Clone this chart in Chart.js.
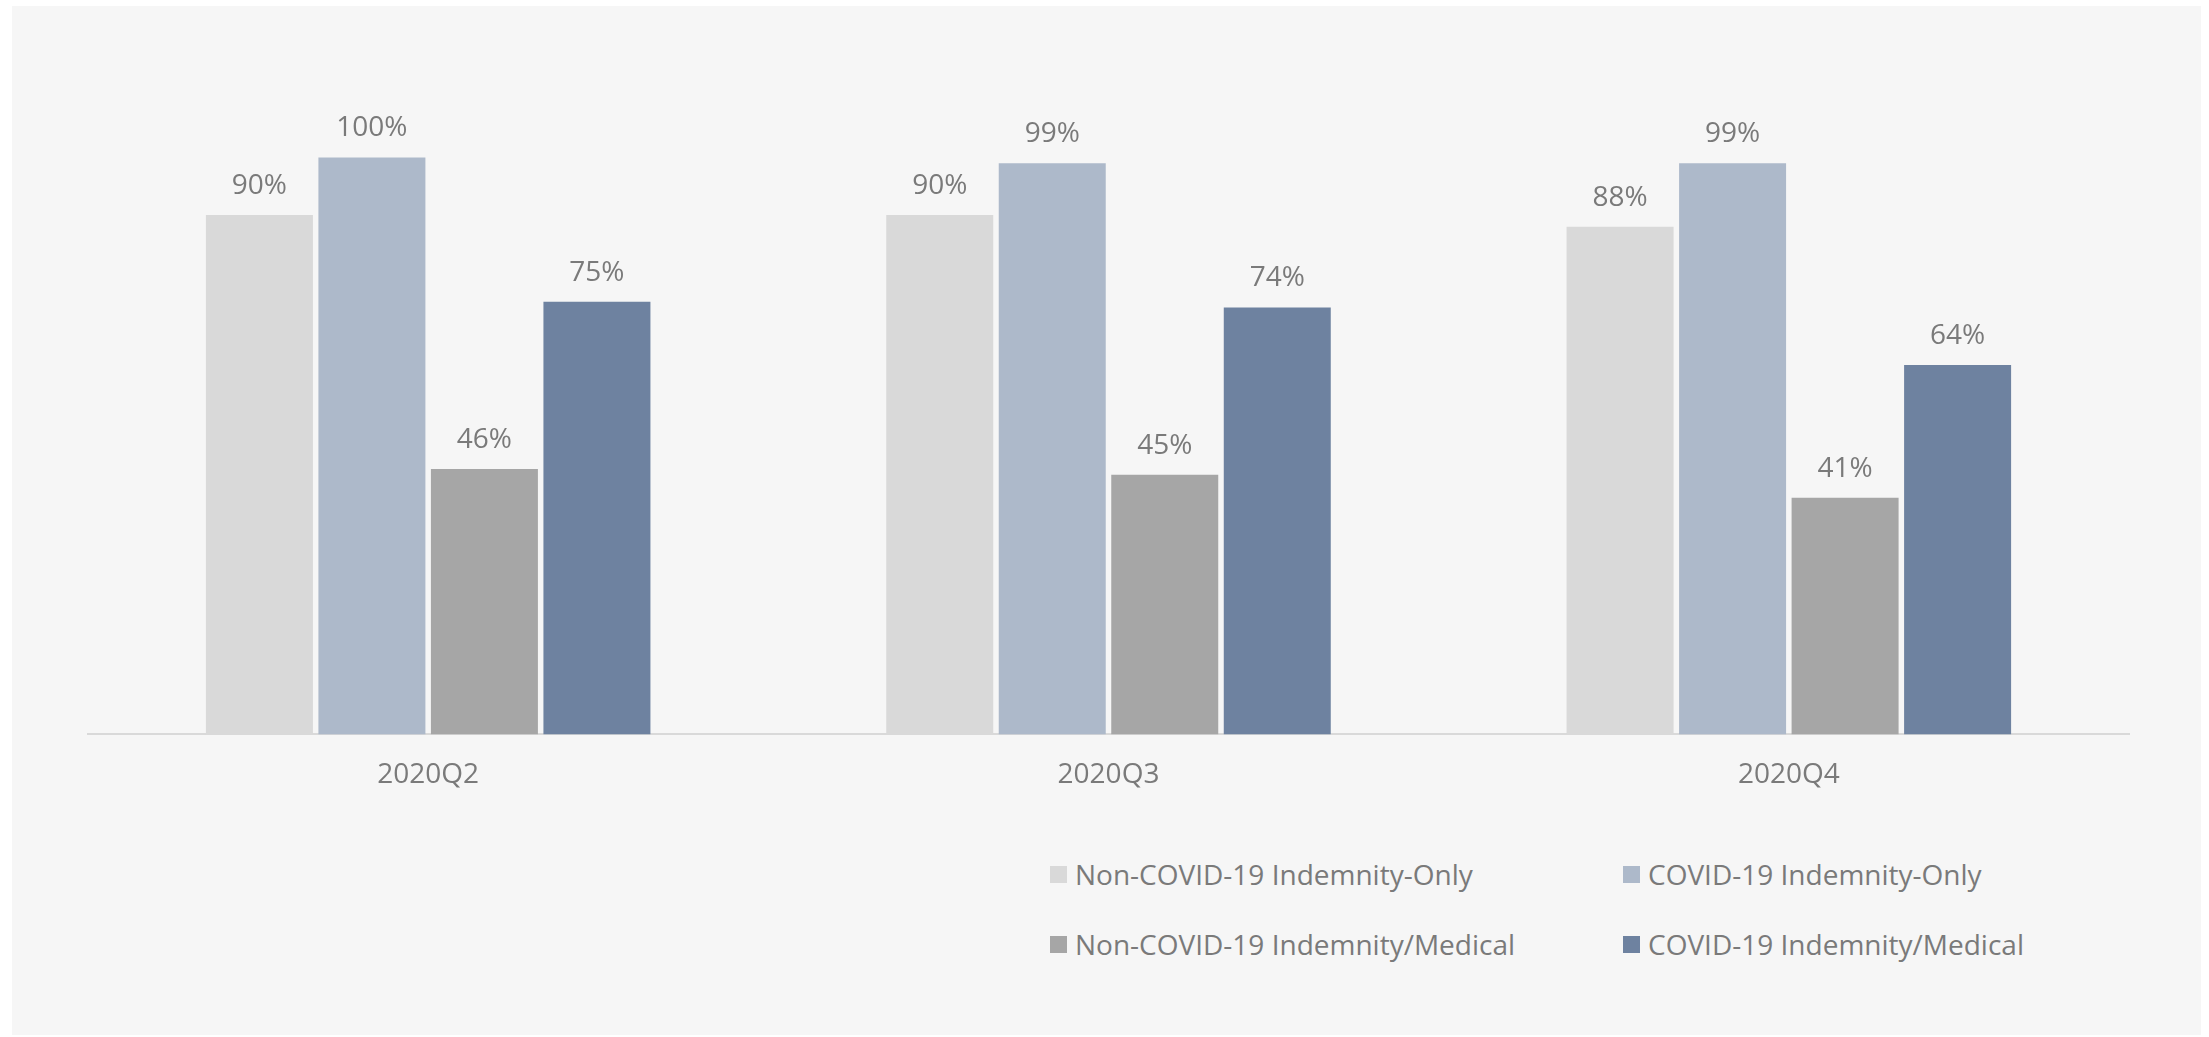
<!DOCTYPE html>
<html>
<head>
<meta charset="utf-8">
<script src="https://cdn.jsdelivr.net/npm/chart.js@4.4.1/dist/chart.umd.min.js"></script>
<style>
  html, body { margin: 0; padding: 0; background: #ffffff; }
  body { width: 2209px; height: 1037px; position: relative; overflow: hidden; font-family: "Open Sans", sans-serif; }
  .panel { position: absolute; left: 12px; top: 6px; width: 2189px; height: 1029px; background: #f6f6f6; }
  .chart-box { position: absolute; left: 0; top: 0; width: 2189px; height: 810px; }
  #legend {
    position: absolute; left: 1038px; top: 833px;
    display: grid; grid-template-columns: 573px 573px; grid-auto-rows: 70px;
  }
  #legend .item { display: flex; align-items: center; color: #7a7a7a; font-size: 28px; white-space: nowrap; }
  #legend .swatch { width: 17px; height: 17px; margin-right: 8px; flex: none; }
</style>
</head>
<body>
<div class="panel">
  <div class="chart-box"><canvas id="claimsChart"></canvas></div>
  <div id="legend"></div>
</div>
<script>
// quarters and series (percent)
const quarters = ['2020Q2', '2020Q3', '2020Q4'];
const seriesNames = [
  'Non-COVID-19 Indemnity-Only',
  'COVID-19 Indemnity-Only',
  'Non-COVID-19 Indemnity/Medical',
  'COVID-19 Indemnity/Medical'
];
const nonCovidIndemnityOnly = [90, 90, 88];
const covidIndemnityOnly = [100, 99, 99];
const nonCovidIndemnityMedical = [46, 45, 41];
const covidIndemnityMedical = [75, 74, 64];
const seriesColors = ['#d9d9d9', '#adb9ca', '#a6a6a6', '#6e82a0'];

const seriesValues = [nonCovidIndemnityOnly, covidIndemnityOnly, nonCovidIndemnityMedical, covidIndemnityMedical];
const textColor = '#7a7a7a';
const fontFamily = '"Open Sans", sans-serif';

// value labels above each bar
const barLabels = {
  id: 'barLabels',
  afterDatasetsDraw(chart) {
    const ctx = chart.ctx;
    ctx.save();
    ctx.fillStyle = textColor;
    ctx.font = '28px ' + fontFamily;
    ctx.textAlign = 'center';
    ctx.textBaseline = 'alphabetic';
    chart.data.datasets.forEach((ds, i) => {
      chart.getDatasetMeta(i).data.forEach((bar, j) => {
        ctx.fillText(Math.round(ds.data[j]) + '%', bar.x, bar.y - 21);
      });
    });
    ctx.restore();
  }
};

const chart = new Chart(document.getElementById('claimsChart'), {
  type: 'bar',
  data: {
    labels: quarters,
    datasets: seriesNames.map((name, i) => ({
      label: name,
      data: seriesValues[i],
      backgroundColor: seriesColors[i],
      borderWidth: 0,
      categoryPercentage: 0.6615,
      barPercentage: 0.951
    }))
  },
  options: {
    responsive: true,
    maintainAspectRatio: false,
    animation: false,
    layout: { padding: { left: 76, right: 72, top: 36, bottom: 0 } },
    plugins: {
      legend: { display: false },
      tooltip: { enabled: false }
    },
    scales: {
      x: {
        grid: { display: false, drawTicks: false },
        border: { display: true, color: '#d9d9d9', width: 2 },
        ticks: { color: textColor, font: { family: fontFamily, size: 28 }, padding: 24 }
      },
      y: { display: false, min: 0, max: 120 }
    }
  },
  plugins: [barLabels]
});

// legend in two columns
const legendEl = document.getElementById('legend');
chart.data.datasets.forEach(ds => {
  const item = document.createElement('div');
  item.className = 'item';
  item.innerHTML = `<span class="swatch" style="background:${ds.backgroundColor}"></span><span>${ds.label}</span>`;
  legendEl.appendChild(item);
});
</script>
</body>
</html>
